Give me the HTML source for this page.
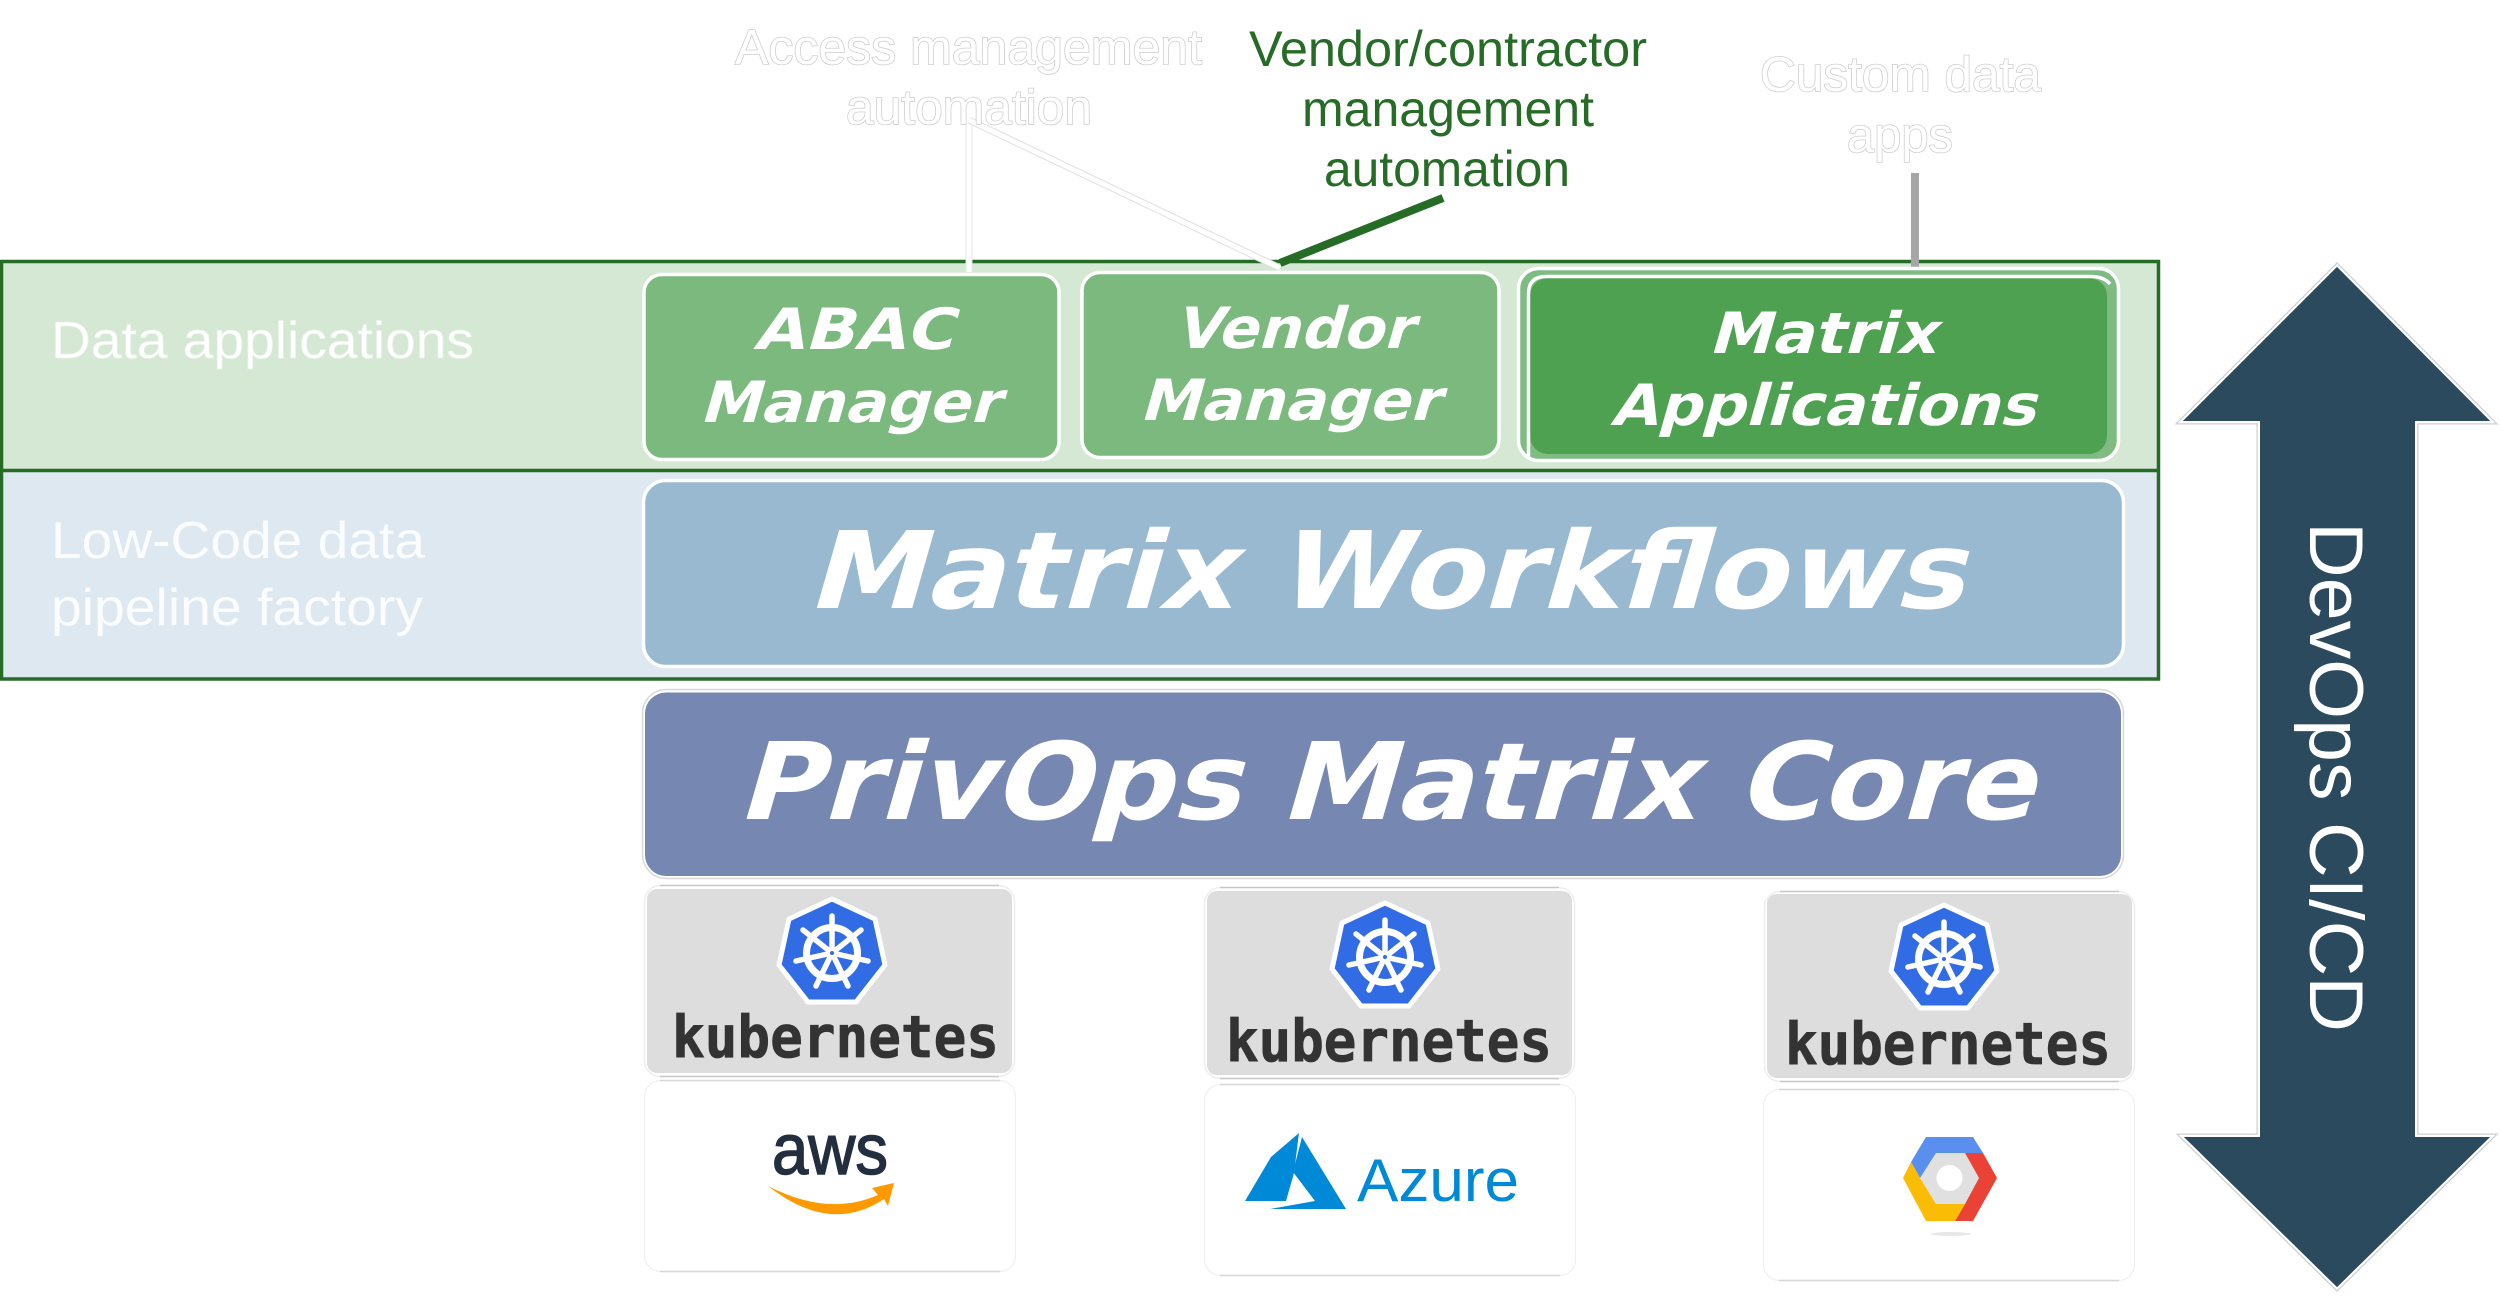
<!DOCTYPE html>
<html><head><meta charset="utf-8"><title>PrivOps Matrix</title>
<style>
html,body{margin:0;padding:0;background:#fff;width:2500px;height:1296px;overflow:hidden}
svg{display:block}
.d{font-family:"DejaVu Sans","Liberation Sans",sans-serif;font-weight:bold;fill:#fff}
.l{font-family:"Liberation Sans",sans-serif}
.o{fill:#fff;stroke:#cfcfcf;stroke-width:1.6;paint-order:stroke}
.k{font-family:"DejaVu Sans Mono",monospace;font-weight:bold;fill:#333;stroke:#333;stroke-width:.8;font-size:58px}
.e{fill:none;stroke:#c8c8c8;stroke-width:1.5}
</style></head><body>
<svg width="2500" height="1296" viewBox="0 0 2500 1296" xmlns="http://www.w3.org/2000/svg">
<defs>
<g id="kube">
<polygon points="832,899 875,919 885,965 856,1002 808,1002 779,965 789,919" fill="#326ce5" stroke="#fff" stroke-width="5" stroke-linejoin="round"/>
<g fill="none" stroke="#fff" stroke-linecap="round">
<circle cx="832" cy="953" r="25.5" stroke-width="7"/>
<g stroke-width="5.5">
<path d="M832,953V916"/><path d="M832,953L861,930"/><path d="M832,953L868,961"/><path d="M832,953L848,986"/><path d="M832,953L816,986"/><path d="M832,953L796,961"/><path d="M832,953L803,930"/>
</g></g>
<circle cx="832" cy="953" r="3.5" fill="#326ce5" stroke="#fff" stroke-width="3"/>
</g>
</defs>

<!-- layers -->
<rect x="1.5" y="261.5" width="2157" height="209" fill="#d5e8d4"/>
<rect x="1.5" y="470.5" width="2157" height="209" fill="#dee8f0"/>
<path d="M1.5,261.5H2158.5V679H1.5ZM1.5,470.5H2158.5" fill="none" stroke="#266b26" stroke-width="3.5"/>

<!-- callout lines -->
<line x1="969" y1="124" x2="969" y2="272" stroke="#e6e6e6" stroke-width="7"/>
<line x1="969" y1="124" x2="969" y2="272" stroke="#fff" stroke-width="5"/>
<line x1="969" y1="120" x2="1280" y2="268" stroke="#e0e0e0" stroke-width="7"/>
<line x1="969" y1="120" x2="1280" y2="268" stroke="#fff" stroke-width="5"/>
<line x1="1443" y1="198" x2="1280" y2="263" stroke="#266b26" stroke-width="8"/>
<line x1="1915" y1="173" x2="1915" y2="272" stroke="#a6a6a6" stroke-width="8"/>

<!-- application boxes -->
<rect x="644" y="274.5" width="415" height="185" rx="18" fill="#7bb97f" stroke="#fff" stroke-width="3.5"/>
<rect x="1082" y="272.5" width="417" height="185" rx="18" fill="#7bb97f" stroke="#fff" stroke-width="3.5"/>
<rect x="1518.5" y="268.5" width="600" height="192" rx="20" fill="#7fbb82" stroke="#fff" stroke-width="3.5"/>
<rect x="1530" y="278" width="577" height="176" rx="18" fill="#4fa152"/>
<path d="M1528.5,458V294Q1528.5,276.5 1546,276.5H2090Q2104,276.5 2110,284" fill="none" stroke="#fff" stroke-width="3.5"/>

<text class="d" font-size="57" transform="translate(753,349) skewX(-16)" textLength="200" lengthAdjust="spacingAndGlyphs">ABAC</text>
<text class="d" font-size="57" transform="translate(699,422) skewX(-16)" textLength="300" lengthAdjust="spacingAndGlyphs">Manager</text>
<text class="d" font-size="57" transform="translate(1174,348) skewX(-16)" textLength="238" lengthAdjust="spacingAndGlyphs">Vendor</text>
<text class="d" font-size="57" transform="translate(1139,420) skewX(-16)" textLength="300" lengthAdjust="spacingAndGlyphs">Manager</text>
<text class="d" font-size="57" transform="translate(1708,353) skewX(-16)" textLength="228" lengthAdjust="spacingAndGlyphs">Matrix</text>
<text class="d" font-size="57" transform="translate(1610,425) skewX(-16)" textLength="425" lengthAdjust="spacingAndGlyphs">Applications</text>

<!-- workflow / core -->
<rect x="643.5" y="480.5" width="1480" height="186" rx="22" fill="#98b9d0" stroke="#fff" stroke-width="3.5"/>
<text class="d" font-size="107" transform="translate(806,608) skewX(-16)" textLength="1157" lengthAdjust="spacingAndGlyphs">Matrix Workflows</text>
<rect x="642.5" y="689.5" width="1481" height="189" rx="24" fill="#fff" stroke="#d8d8d8" stroke-width="1.5"/>
<rect x="645" y="692.5" width="1476" height="183.5" rx="21" fill="#7688b1"/>
<text class="d" font-size="107" transform="translate(736,819) skewX(-16)" textLength="1297" lengthAdjust="spacingAndGlyphs">PrivOps Matrix Core</text>

<!-- kubernetes boxes -->
<rect x="644.5" y="885.5" width="370" height="191" rx="16" fill="#fff" stroke="#eeeeee" stroke-width="1.5"/>
<path class="e" d="M660,885.5H999M660,1076.5H999"/>
<rect x="647" y="889" width="365" height="184" rx="10" fill="#ddd"/>
<rect x="1204.5" y="887.5" width="370" height="191" rx="16" fill="#fff" stroke="#eeeeee" stroke-width="1.5"/>
<path class="e" d="M1220,887.5H1559M1220,1078.5H1559"/>
<rect x="1207" y="891" width="365" height="184" rx="10" fill="#ddd"/>
<rect x="1764.5" y="891.5" width="370" height="190" rx="16" fill="#fff" stroke="#eeeeee" stroke-width="1.5"/>
<path class="e" d="M1780,891.5H2119M1780,1081.5H2119"/>
<rect x="1767" y="894" width="365" height="184" rx="10" fill="#ddd"/>

<use href="#kube"/>
<use href="#kube" transform="translate(553,4)"/>
<use href="#kube" transform="translate(1112,6)"/>
<text class="k" x="672" y="1057" textLength="327" lengthAdjust="spacingAndGlyphs">kubernetes</text>
<text class="k" x="1226" y="1061" textLength="326" lengthAdjust="spacingAndGlyphs">kubernetes</text>
<text class="k" x="1785" y="1064" textLength="326" lengthAdjust="spacingAndGlyphs">kubernetes</text>

<!-- cloud boxes -->
<rect x="644.5" y="1080.5" width="371" height="191" rx="16" fill="#fff" stroke="#f0f0f0" stroke-width="1.2"/>
<path class="e" d="M660,1271.5H1000M660,1080.5H1000" style="stroke:#d6d6d6"/>
<rect x="1204.5" y="1084.5" width="371" height="191" rx="16" fill="#fff" stroke="#f0f0f0" stroke-width="1.2"/>
<path class="e" d="M1220,1275.5H1560M1220,1084.5H1560" style="stroke:#d6d6d6"/>
<rect x="1763.5" y="1089.5" width="371" height="191" rx="16" fill="#fff" stroke="#f0f0f0" stroke-width="1.2"/>
<path class="e" d="M1779,1280.5H2119M1779,1089.5H2119" style="stroke:#d6d6d6"/>

<!-- aws -->
<text class="l" x="772" y="1174" font-size="71" fill="#232f3e" stroke="#232f3e" stroke-width="1.5" textLength="116" lengthAdjust="spacingAndGlyphs">aws</text>
<path d="M768,1186Q828,1217 878,1195L872,1188L894,1183L888,1206L884,1199Q830,1235 768,1186Z" fill="#f90"/>

<!-- azure -->
<polygon points="1299,1133 1271,1157 1245,1201 1286,1201 1294,1173" fill="#0089d6"/>
<polygon points="1302,1137 1346,1209 1270,1209 1315,1201 1293,1172" fill="#0089d6"/>
<text class="l" x="1357" y="1201" font-size="60" fill="#0089d6" textLength="162" lengthAdjust="spacingAndGlyphs">Azure</text>

<!-- gcp -->
<polygon points="1936,1153 1965,1153 1979,1178 1965,1204 1936,1204 1920,1178" fill="#e0e0e0"/>
<polygon points="1926,1137 1973,1137 1983,1153 1936,1153 1920,1178 1911,1162" fill="#5a8ff0"/>
<polygon points="1965,1153 1983,1153 1997,1178 1973,1221 1955,1221 1965,1204 1979,1178" fill="#ea4335"/>
<polygon points="1911,1162 1920,1178 1936,1204 1965,1204 1955,1221 1926,1221 1903,1178" fill="#fbbc05"/>
<ellipse cx="1949.5" cy="1178" rx="13" ry="13" fill="#fff"/>
<ellipse cx="1951" cy="1234" rx="20" ry="2" fill="#e8e8e8"/>

<!-- DevOps arrow -->
<g id="arrow" stroke-linejoin="miter" stroke-miterlimit="10">
<polygon points="2337,267 2490,421 2415,421 2415,1137 2490,1137 2337,1287 2184,1137 2260,1137 2260,421 2183,421" fill="#fff" stroke="#cfcfcf" stroke-width="7"/>
<polygon points="2337,267 2490,421 2415,421 2415,1137 2490,1137 2337,1287 2184,1137 2260,1137 2260,421 2183,421" fill="#2c4a5e" stroke="#fff" stroke-width="4.5" paint-order="stroke"/>
<polygon points="2337,267 2490,421 2415,421 2415,1137 2490,1137 2337,1287 2184,1137 2260,1137 2260,421 2183,421" fill="#2c4a5e"/>
</g>
<text class="l" font-size="76" fill="#fff" transform="translate(2310,522) rotate(90)" textLength="510" lengthAdjust="spacingAndGlyphs">DevOps CI/CD</text>

<!-- left labels -->
<text class="l" x="51" y="358" font-size="52" fill="#fff" stroke="#e9f2e8" stroke-width=".6" textLength="423" lengthAdjust="spacingAndGlyphs">Data applications</text>
<text class="l" x="51" y="558" font-size="52" fill="#fff" fill-opacity=".85" textLength="374" lengthAdjust="spacingAndGlyphs">Low-Code data</text>
<text class="l" x="51" y="625" font-size="52" fill="#fff" fill-opacity=".85" textLength="372" lengthAdjust="spacingAndGlyphs">pipeline factory</text>

<!-- top labels -->
<text class="l o" x="735" y="64" font-size="49" textLength="467" lengthAdjust="spacingAndGlyphs">Access management</text>
<text class="l o" x="846" y="124" font-size="49" textLength="246" lengthAdjust="spacingAndGlyphs">automation</text>
<text class="l" x="1249" y="66" font-size="50" fill="#266b26" textLength="398" lengthAdjust="spacingAndGlyphs">Vendor/contractor</text>
<text class="l" x="1302" y="126" font-size="50" fill="#266b26" textLength="292" lengthAdjust="spacingAndGlyphs">management</text>
<text class="l" x="1324" y="186" font-size="50" fill="#266b26" textLength="246" lengthAdjust="spacingAndGlyphs">automation</text>
<text class="l o" x="1760" y="91" font-size="49" textLength="281" lengthAdjust="spacingAndGlyphs">Custom data</text>
<text class="l o" x="1847" y="152" font-size="49" textLength="106" lengthAdjust="spacingAndGlyphs">apps</text>
</svg>
</body></html>
